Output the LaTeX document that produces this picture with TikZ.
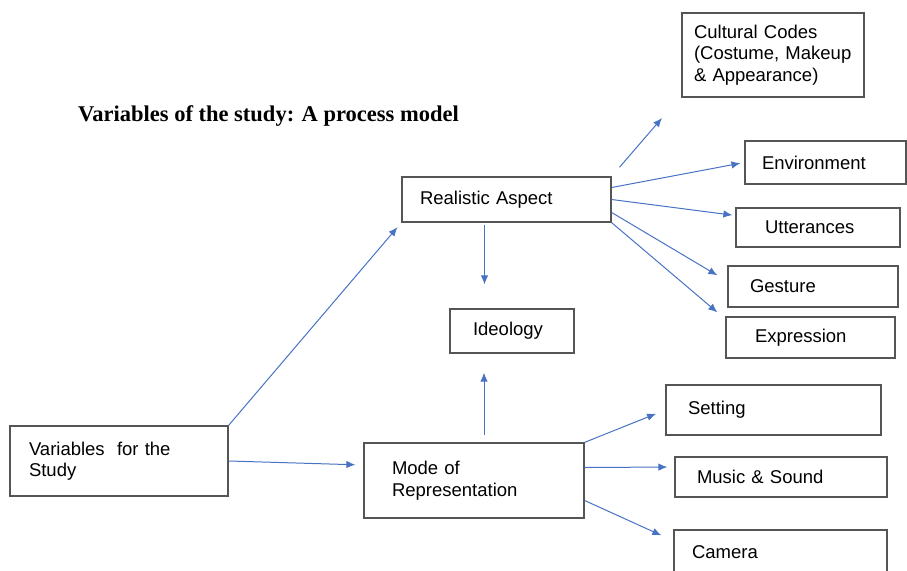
\documentclass[tikz,border=0pt]{standalone}
\usepackage{fontspec}
\setmainfont{Liberation Sans}
\newfontfamily\titlefont{Liberation Serif}
\usetikzlibrary{arrows.meta}
\definecolor{linkblue}{RGB}{72,114,196}
\definecolor{boxgray}{RGB}{85,85,85}
\tikzset{
  box/.style={
    draw=boxgray,
    line width=1.3pt,
    align=left,
    inner ysep=0pt,
    font=\fontsize{18.5}{21.5}\selectfont
  },
  flow/.style={
    draw=linkblue,
    line width=1pt,
    -{Latex[length=9pt,width=7.5pt]}
  },
  heading/.style={anchor=west, inner sep=0pt, font=\titlefont\bfseries\fontsize{22.5}{26}\selectfont}
}

\begin{document}
\begin{tikzpicture}[x=1pt,y=-1pt]
  \clip (0,0) rectangle (907,570);
  % title
  \node[heading] (title) at (78,116) {Variables of the study: A process model};
  % boxes
  \node[box, minimum width=182pt, minimum height=84pt, inner xsep=12pt, text width=158pt] (cult) at (773,55)
    {Cultural Codes\\(Costume, Makeup\\\& Appearance)};
  \node[box, minimum width=209pt, minimum height=45pt, inner xsep=18pt, text width=173pt] (real) at (506.5,199.5) {Realistic Aspect};
  \node[box, minimum width=161pt, minimum height=43pt, inner xsep=17pt, text width=127pt] (env) at (825.5,162.5) {Environment};
  \node[box, minimum width=164pt, minimum height=39pt, inner xsep=29pt, text width=106pt] (utt) at (818,227.5) {Utterances};
  \node[box, minimum width=170pt, minimum height=41pt, inner xsep=22pt, text width=126pt] (gest) at (813,286.5) {Gesture};
  \node[box, minimum width=169pt, minimum height=41pt, inner xsep=29pt, text width=111pt] (expr) at (810.5,337.5) {Expression};
  \node[box, minimum width=124pt, minimum height=44pt, inner xsep=23pt, text width=78pt] (ideo) at (512,331) {Ideology};
  \node[box, minimum width=218pt, minimum height=70pt, inner xsep=19pt, text width=180pt] (vars) at (119,461)
    {Variables~ for the\\Study};
  \node[box, minimum width=220pt, minimum height=75pt, inner xsep=28pt, text width=164pt] (mode) at (474,480.5)
    {Mode of\\Representation};
  \node[box, minimum width=215pt, minimum height=50pt, inner xsep=22pt, text width=171pt] (sett) at (773.5,410) {Setting};
  \node[box, minimum width=212pt, minimum height=40pt, inner xsep=22pt, text width=168pt] (music) at (781,477) {Music \& Sound};
  \node[box, minimum width=213pt, minimum height=44pt, inner xsep=18pt, text width=177pt] (cam) at (780.5,552) {Camera};
  \coordinate (cultarr) at (662,118);
  % arrows from the study variables
  \draw[flow, shorten >=6pt] (vars.north east) -- (real.south west);
  \draw[flow, shorten >=8pt] (vars.east) -- ([yshift=-4pt]mode.west |- vars.east);
  % arrows to ideology
  \draw[flow, shorten <=2pt, shorten >=24pt] ([xshift=-22pt]real.south) -- ([xshift=-22pt]real.south |- ideo.north);
  \draw[flow, shorten <=7pt, shorten >=19pt] ([xshift=10pt]mode.north) -- ([xshift=10pt]mode.north |- ideo.south);
  % realistic aspect
  \draw[flow, shorten <=12pt] (real.north east) -- (cultarr);
  \draw[flow, shorten >=4pt] ([yshift=12pt]real.east) -- (env.west);
  \draw[flow, shorten >=3pt] (real.east) -- ([yshift=12pt]utt.west);
  \draw[flow] ([yshift=-13pt]real.east) -- ([xshift=-10pt,yshift=-10pt]gest.north west);
  \draw[flow] (real.south east) -- ([xshift=-8pt,yshift=4pt]expr.north west);
  % mode of representation
  \draw[flow, shorten >=10pt] (mode.north east) -- (sett.west);
  \draw[flow, shorten >=7pt] ([yshift=13pt]mode.east) -- ([yshift=10pt]music.west);
  \draw[flow] ([yshift=-20pt]mode.east) -- ([xshift=-12pt,yshift=-6pt]cam.north west);
\end{tikzpicture}
\end{document}
